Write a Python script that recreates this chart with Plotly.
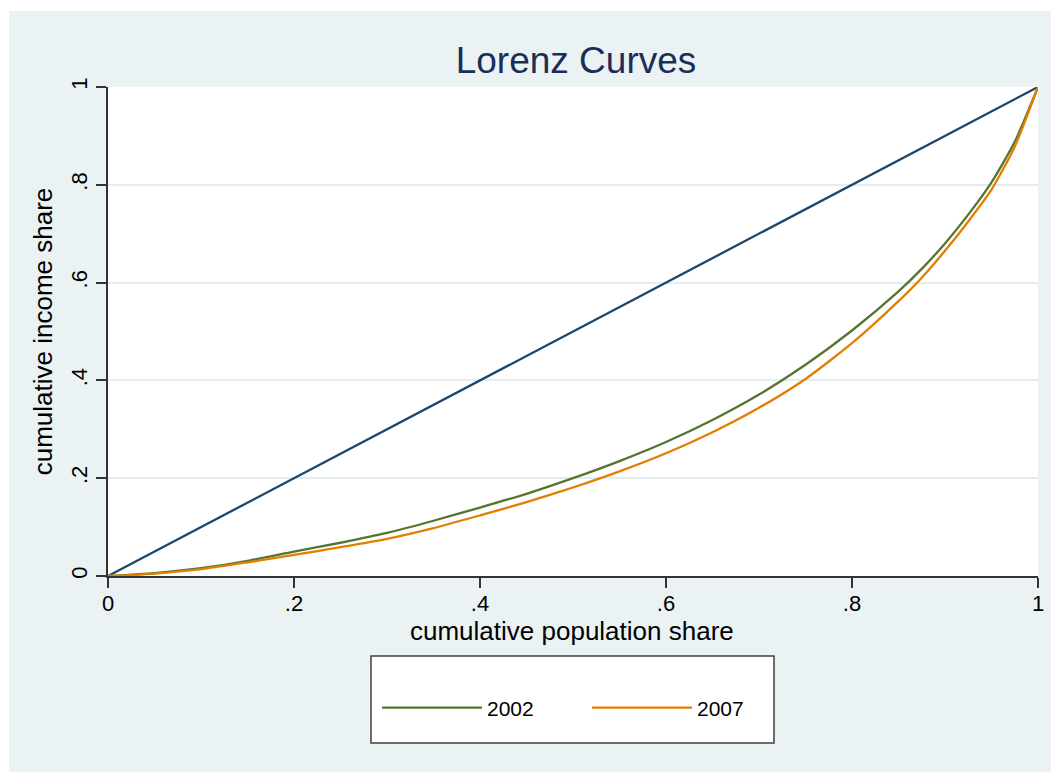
import plotly.graph_objects as go

# Data
pop_share = [0, .05, .1, .15, .2, .25, .3, .35, .4, .45, .5, .55, .6, .65, .7, .75, .8, .85, .875, .9, .925, .95, .975, 1]
equality = [0, .05, .1, .15, .2, .25, .3, .35, .4, .45, .5, .55, .6, .65, .7, .75, .8, .85, .875, .9, .925, .95, .975, 1]
lorenz_2002 = [0, .006, .016, .031, .050, .068, .088, .113, .140, .168, .200, .235, .274, .319, .371, .432, .502, .582, .628, .680, .739, .805, .888, 1]
lorenz_2007 = [0, .005, .014, .028, .043, .059, .076, .098, .124, .151, .181, .214, .251, .294, .344, .403, .476, .562, .610, .665, .725, .790, .878, 1]
series_names = ["2002", "2007"]
x_ticks = [0, .2, .4, .6, .8, 1]
x_tick_labels = ["0", ".2", ".4", ".6", ".8", "1"]

BG = "#EAF2F3"
NAVY = "#1A476F"
GREEN = "#55752F"
ORANGE = "#E37E00"
FONT = "Liberation Sans, Arial, sans-serif"

W, H = 1051, 772
L, R, T, B = 108, 13, 87, 196
pw, ph = W - L - R, H - T - B


def px_x(p):
    return (p - L) / pw


def px_y(p):
    return (H - B - p) / ph


fig = go.Figure()
fig.add_trace(go.Scatter(x=pop_share, y=equality, mode="lines", line=dict(color=NAVY, width=2.3),
                         showlegend=False, hoverinfo="skip"))
fig.add_trace(go.Scatter(x=pop_share, y=lorenz_2002, mode="lines", name=series_names[0],
                         line=dict(color=GREEN, width=2.3, shape="spline", smoothing=0.6)))
fig.add_trace(go.Scatter(x=pop_share, y=lorenz_2007, mode="lines", name=series_names[1],
                         line=dict(color=ORANGE, width=2.3, shape="spline", smoothing=0.6)))

shapes = [
    dict(type="rect", xref="paper", yref="paper", x0=px_x(9), x1=px_x(W + 5), y0=px_y(H + 5), y1=px_y(11),
         fillcolor=BG, line=dict(width=0), layer="below"),
    dict(type="rect", xref="paper", yref="paper", x0=0, x1=1, y0=0, y1=1,
         fillcolor="white", line=dict(width=0), layer="below"),
    dict(type="rect", xref="paper", yref="paper", x0=px_x(371), x1=px_x(774), y0=px_y(743), y1=px_y(656),
         fillcolor="white", line=dict(color="#404040", width=1.5), layer="below"),
]

fig.update_layout(
    width=W, height=H, autosize=False,
    margin=dict(l=L, r=R, t=T, b=B, pad=0),
    paper_bgcolor="white", plot_bgcolor="white",
    font=dict(family=FONT, color="black", size=21),
    title=dict(text="Lorenz Curves", x=576 / W, xanchor="center",
               y=1 - 60 / H, yanchor="middle", yref="container",
               font=dict(size=37, color="#1C2D59", family=FONT)),
    shapes=shapes,
    annotations=[dict(text="cumulative population share", xref="paper", yref="paper",
                      x=px_x(572), y=px_y(631), xanchor="center", yanchor="middle",
                      showarrow=False, font=dict(size=26, family=FONT, color="black"))],
    showlegend=True,
    legend=dict(orientation="h", xref="container", yref="container",
                x=377 / W, xanchor="left", y=1 - 708 / H, yanchor="middle",
                bgcolor="rgba(0,0,0,0)", borderwidth=0, font=dict(size=21, family=FONT),
                itemwidth=100, entrywidth=95, entrywidthmode="pixels"),
    xaxis=dict(range=[0, 1], tickvals=x_ticks, ticktext=x_tick_labels, showgrid=False, zeroline=False,
               showline=True, linecolor="#333333", linewidth=1.5, ticks="outside", ticklen=10,
               tickwidth=1.5, tickcolor="#333333", tickfont=dict(size=22), automargin=False,
               ticklabelstandoff=-3),
    yaxis=dict(range=[0, 1], tickvals=x_ticks, ticktext=x_tick_labels, showgrid=True, gridcolor="#E3EDEF",
               gridwidth=2, zeroline=False, showline=True, linecolor="#333333", linewidth=1.5,
               ticks="outside", ticklen=10, tickwidth=1.5, tickcolor="#333333", tickangle=-90,
               tickfont=dict(size=22), automargin=False,
               title=dict(text="cumulative income share", font=dict(size=26), standoff=7)),
)

fig.write_html("out.html", config={"displayModeBar": False},
               post_script="document.body.style.margin='0';document.body.style.overflow='hidden';")
